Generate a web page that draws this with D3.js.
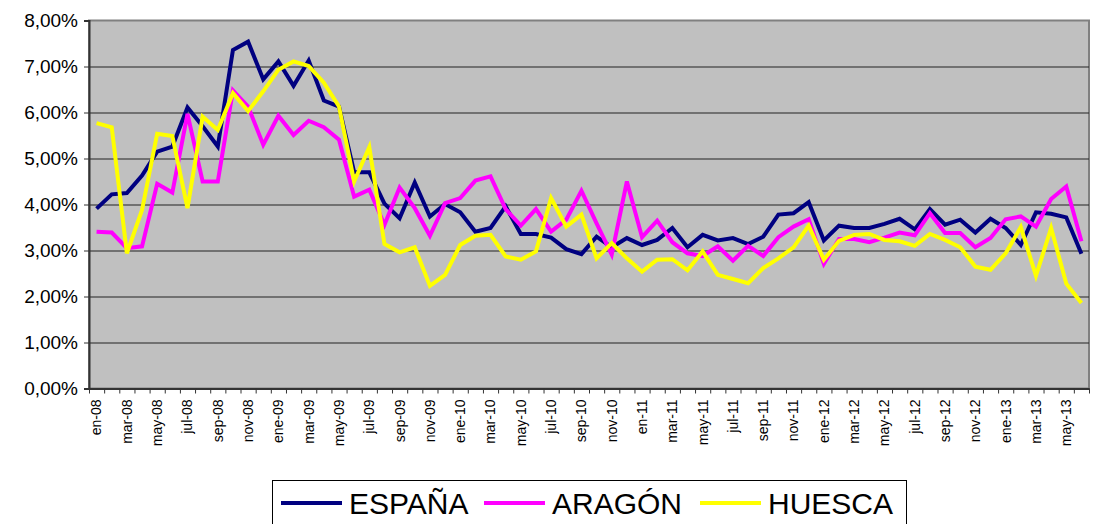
<!DOCTYPE html>
<html>
<head>
<meta charset="utf-8">
<script src="https://cdn.jsdelivr.net/npm/d3@7/dist/d3.min.js"></script>
<style>
  body { margin: 0; background: #fff; }
  svg { font-family: Arial, "Liberation Sans", sans-serif; }
</style>
</head>
<body>
<div id="chart"></div>
<script>
// months shown on the category axis (only every other one is labelled)
const months = [
  "en-08","feb-08","mar-08","abr-08","may-08","jun-08","jul-08","ago-08","sep-08","oct-08","nov-08","dic-08",
  "ene-09","feb-09","mar-09","abr-09","may-09","jun-09","jul-09","ago-09","sep-09","oct-09","nov-09","dic-09",
  "ene-10","feb-10","mar-10","abr-10","may-10","jun-10","jul-10","ago-10","sep-10","oct-10","nov-10","dic-10",
  "en-11","feb-11","mar-11","abr-11","may-11","jun-11","jul-11","ago-11","sep-11","oct-11","nov-11","dic-11",
  "ene-12","feb-12","mar-12","abr-12","may-12","jun-12","jul-12","ago-12","sep-12","oct-12","nov-12","dic-12",
  "ene-13","feb-13","mar-13","abr-13","may-13","jun-13"
];

const espana = [
  3.91,4.22,4.25,4.63,5.15,5.26,6.11,5.70,5.26,7.36,7.54,6.72,
  7.11,6.58,7.13,6.26,6.13,4.70,4.70,4.02,3.70,4.48,3.74,4.01,
  3.83,3.41,3.49,3.96,3.36,3.36,3.28,3.03,2.92,3.30,3.07,3.27,
  3.12,3.23,3.49,3.07,3.34,3.22,3.27,3.14,3.30,3.78,3.81,4.05,
  3.22,3.54,3.49,3.49,3.58,3.69,3.46,3.90,3.56,3.67,3.39,3.69,
  3.49,3.12,3.83,3.80,3.72,2.93
];

const aragon = [
  3.41,3.39,3.05,3.09,4.45,4.26,5.97,4.50,4.50,6.48,6.13,5.30,
  5.93,5.51,5.82,5.68,5.41,4.17,4.32,3.56,4.37,3.92,3.32,4.03,
  4.14,4.52,4.61,3.90,3.54,3.90,3.41,3.67,4.30,3.59,2.91,4.50,
  3.29,3.65,3.18,2.94,2.88,3.09,2.78,3.10,2.88,3.29,3.52,3.68,
  2.71,3.25,3.25,3.18,3.28,3.39,3.33,3.81,3.38,3.38,3.07,3.27,
  3.68,3.74,3.52,4.12,4.39,3.20
];

const huesca = [
  5.77,5.68,2.94,3.88,5.54,5.49,3.92,5.91,5.62,6.42,6.03,6.46,
  6.93,7.11,7.01,6.65,6.13,4.50,5.25,3.14,2.96,3.07,2.23,2.47,
  3.12,3.32,3.34,2.87,2.80,2.98,4.14,3.52,3.78,2.83,3.16,2.83,
  2.54,2.80,2.81,2.57,2.98,2.47,2.38,2.29,2.62,2.83,3.07,3.54,
  2.80,3.21,3.34,3.36,3.23,3.20,3.10,3.36,3.23,3.07,2.65,2.58,
  2.94,3.51,2.45,3.49,2.28,1.86
];

const seriesNames = ["ESPAÑA", "ARAGÓN", "HUESCA"];
const seriesColors = ["#000080", "#FF00FF", "#FFFF00"];
const yTicks = [0, 1, 2, 3, 4, 5, 6, 7, 8];

const width = 1102, height = 524;
const margin = {top: 20.5, right: 13, bottom: 135.5, left: 89};
const plotW = width - margin.left - margin.right;
const plotH = height - margin.top - margin.bottom;

const svg = d3.select("#chart").append("svg")
  .attr("width", width)
  .attr("height", height);

const x = d3.scaleBand()
  .domain(months)
  .range([margin.left, margin.left + plotW])
  .padding(0);

const xIdx = d3.scaleLinear()
  .domain([0, months.length])
  .range([margin.left, margin.left + plotW]);

const y = d3.scaleLinear()
  .domain([0, 8])
  .range([margin.top + plotH, margin.top]);

// plot background
svg.append("rect")
  .attr("x", margin.left)
  .attr("y", margin.top)
  .attr("width", plotW)
  .attr("height", plotH)
  .attr("fill", "#C0C0C0")
  .attr("stroke", "#808080")
  .attr("stroke-width", 2);

// gridlines
svg.append("g")
  .attr("transform", `translate(${margin.left},0)`)
  .call(d3.axisLeft(y).tickValues(yTicks.slice(1, -1)).tickSize(-plotW).tickFormat(""))
  .call(g => g.select(".domain").remove())
  .call(g => g.selectAll("line").attr("stroke", "#222").attr("stroke-width", 1));

// y axis
svg.append("g")
  .attr("transform", `translate(${margin.left},0)`)
  .call(d3.axisLeft(y)
    .tickValues(yTicks)
    .tickSize(5)
    .tickPadding(6)
    .tickFormat(d => d3.format(".2f")(d).replace(".", ",") + "%"))
  .call(g => g.select(".domain").attr("stroke", "#333").attr("stroke-width", 2))
  .call(g => g.selectAll("line").attr("stroke", "#333"))
  .call(g => g.selectAll("text").attr("font-size", 19).attr("fill", "#000")
    .attr("font-family", "Arial, 'Liberation Sans', sans-serif"));

// x axis tick marks at category boundaries
svg.append("g")
  .attr("transform", `translate(0,${margin.top + plotH})`)
  .call(d3.axisBottom(xIdx).tickValues(d3.range(months.length + 1)).tickSize(5).tickSizeOuter(0).tickFormat(""))
  .call(g => g.select(".domain").attr("stroke", "#333").attr("stroke-width", 2))
  .call(g => g.selectAll("line").attr("stroke", "#333"));

// x labels, every other month
svg.append("g")
  .attr("transform", `translate(0,${margin.top + plotH})`)
  .call(d3.axisBottom(x).tickValues(months.filter((m, i) => i % 2 === 0)).tickSize(0).tickPadding(0))
  .call(g => g.select(".domain").remove())
  .call(g => g.selectAll("text")
    .attr("font-size", 14)
    .attr("font-family", "Arial, 'Liberation Sans', sans-serif")
    .attr("fill", "#000")
    .attr("text-anchor", "end")
    .attr("transform", "rotate(-90)")
    .attr("x", -11)
    .attr("y", 0)
    .attr("dy", "0.35em"));

// lines
const line = d3.line()
  .x((d, i) => x(months[i]) + x.bandwidth() / 2)
  .y(d => y(d));

[espana, aragon, huesca].forEach((values, k) => {
  svg.append("path")
    .datum(values)
    .attr("fill", "none")
    .attr("stroke", seriesColors[k])
    .attr("stroke-width", 4)
    .attr("stroke-linejoin", "miter")
    .attr("d", line);
});

// legend
const legend = svg.append("g");
legend.append("rect")
  .attr("x", 272.5)
  .attr("y", 480.5)
  .attr("width", 634)
  .attr("height", 60)
  .attr("fill", "#fff")
  .attr("stroke", "#000")
  .attr("stroke-width", 1);

const legendX = [281, 484, 700];
seriesNames.forEach((name, k) => {
  legend.append("line")
    .attr("x1", legendX[k])
    .attr("x2", legendX[k] + 61)
    .attr("y1", 503)
    .attr("y2", 503)
    .attr("stroke", seriesColors[k])
    .attr("stroke-width", 4);
  legend.append("text")
    .attr("x", legendX[k] + 68)
    .attr("y", 514)
    .attr("font-size", 30)
    .attr("fill", "#000")
    .text(name);
});
</script>
</body>
</html>
